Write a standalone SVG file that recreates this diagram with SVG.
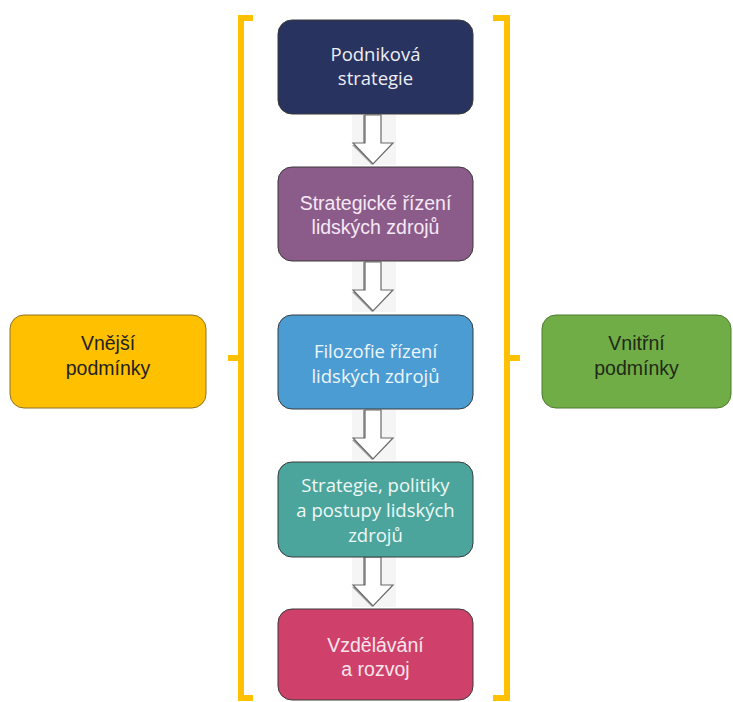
<svg xmlns="http://www.w3.org/2000/svg" width="733" height="702" viewBox="0 0 733 702">
<style>
.box{stroke:#3a3a3a;stroke-width:1}
.cal{font-family:"Open Sans","Noto Sans",sans-serif;font-size:18.5px;text-anchor:middle}
.ari{font-family:"Liberation Sans",Arial,sans-serif;font-size:19.5px;text-anchor:middle}
.brk{fill:none;stroke:#FFC000;stroke-width:6;stroke-linecap:butt;stroke-linejoin:miter}
.arrbg{fill:#F5F5F5}
.arrsh{fill:#A0A0A0}
.arr{fill:#ffffff;stroke:#6a6a6a;stroke-width:1.2;stroke-linejoin:miter}
</style>
<defs>
<g id="arrow">
<rect class="arrbg" x="-21" y="0" width="44" height="50"/>
<polygon class="arrsh" points="-10,0 6,0 6,28 18,28 -1,50 -21,30 -10,30"/>
<polygon class="arr" points="-8,0 8,0 8,28 20,28 0,49 -20,28 -8,28"/>
</g>
</defs>
<rect width="733" height="702" fill="#ffffff"/>
<g id="brackets">
<path class="brk" d="M253,18 H241 V698 H253"/>
<path class="brk" d="M241,358 H228"/>
<path class="brk" d="M493,18 H507 V698 H493"/>
<path class="brk" d="M507,358 H520"/>
</g>
<g id="connectors">
<use href="#arrow" x="373" y="115"/>
<use href="#arrow" x="373" y="262"/>
<use href="#arrow" x="373" y="410"/>
<use href="#arrow" x="373" y="557"/>
</g>
<g id="n1">
<rect class="box" x="278" y="20" width="195" height="94" rx="14" fill="#28335F"/>
<text class="cal" fill="#EEEEF5"><tspan x="375.5" y="61">Podniková</tspan><tspan x="375.5" y="85">strategie</tspan></text>
</g>
<g id="n2">
<rect class="box" x="278" y="167" width="195" height="94" rx="14" fill="#8B5C8A"/>
<text class="ari" fill="#F6E8F4"><tspan x="375.5" y="210">Strategické řízení</tspan><tspan x="375.5" y="234">lidských zdrojů</tspan></text>
</g>
<g id="n3">
<rect class="box" x="278" y="315" width="195" height="94" rx="14" fill="#4B9CD3"/>
<text class="cal" fill="#EEF6FD"><tspan x="375.5" y="358">Filozofie řízení</tspan><tspan x="375.5" y="383">lidských zdrojů</tspan></text>
</g>
<g id="n4">
<rect class="box" x="278" y="462" width="195" height="95" rx="14" fill="#4BA59C"/>
<text class="cal" fill="#EEF8F6"><tspan x="375.5" y="492">Strategie, politiky</tspan><tspan x="375.5" y="517">a postupy lidských</tspan><tspan x="375.5" y="542">zdrojů</tspan></text>
</g>
<g id="n5">
<rect class="box" x="278" y="609" width="195" height="91" rx="14" fill="#CF416B"/>
<text class="ari" fill="#F9E6EC"><tspan x="375.5" y="652">Vzdělávání</tspan><tspan x="375.5" y="676">a rozvoj</tspan></text>
</g>
<g id="left">
<rect x="10" y="315" width="196" height="93" rx="14" fill="#FFC000" stroke="#8C7328" stroke-width="1"/>
<text class="ari" fill="#222222"><tspan x="108" y="350">Vnější</tspan><tspan x="108" y="375">podmínky</tspan></text>
</g>
<g id="right">
<rect x="542" y="315" width="189" height="93" rx="14" fill="#70AD47" stroke="#4E7A33" stroke-width="1"/>
<text class="ari" fill="#1E2A16"><tspan x="636.5" y="350">Vnitřní</tspan><tspan x="636.5" y="375">podmínky</tspan></text>
</g>
</svg>
